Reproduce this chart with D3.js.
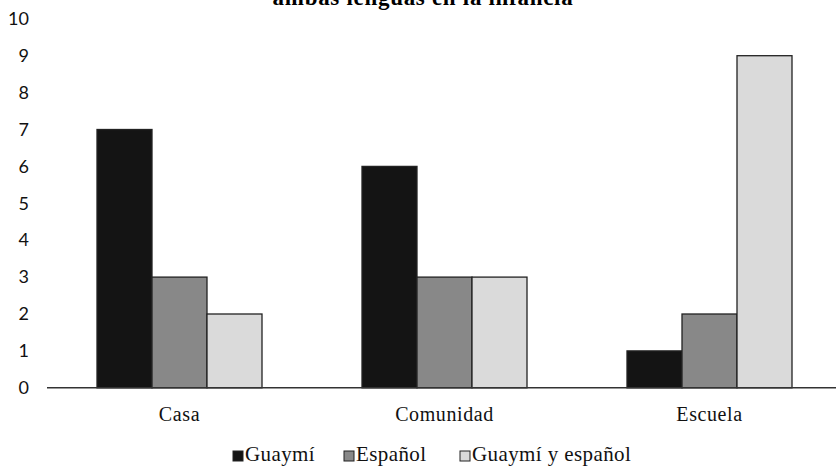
<!DOCTYPE html>
<html lang="es">
<head>
  <meta charset="UTF-8">
  <title>Uso de ambas lenguas en la infancia</title>
  <script src="https://d3js.org/d3.v7.min.js"></script>
  <style>
    html, body { margin: 0; padding: 0; background: #fff; overflow: hidden; }
    svg { display: block; }
  </style>
</head>
<body>
<div id="chartContainer"></div>
<script>
  // Datos
  const categories = ["Casa", "Comunidad", "Escuela"];
  const seriesNames = ["Guaymí", "Español", "Guaymí y español"];
  const guaymi = [7, 6, 1];
  const espanol = [3, 3, 2];
  const ambas = [2, 3, 9];
  const yTicks = [0, 1, 2, 3, 4, 5, 6, 7, 8, 9, 10];
  const titleText = "ambas lenguas en la infancia";

  const width = 836;
  const height = 466;
  const colors = ["#141414", "#888888", "#dadada"];

  const svg = d3.select("#chartContainer")
    .append("svg")
    .attr("width", width)
    .attr("height", height);

  // Escalas
  const x0 = d3.scaleBand()
    .domain(categories)
    .range([47, 842])
    .paddingInner(100 / 265)
    .paddingOuter(50 / 265);

  const x1 = d3.scaleBand()
    .domain(seriesNames)
    .range([0, x0.bandwidth()]);

  const y = d3.scaleLinear()
    .domain([0, 10])
    .range([387.8, 18.8]);

  const values = [guaymi, espanol, ambas];
  const rows = categories.map((c, i) => ({
    category: c,
    items: seriesNames.map((s, j) => ({ series: s, value: values[j][i], idx: j }))
  }));

  // Título (parcialmente cortado, como en el original)
  svg.append("text")
    .attr("x", 423)
    .attr("y", 5)
    .attr("text-anchor", "middle")
    .style("font-family", "'Liberation Serif', serif")
    .style("font-weight", "bold")
    .style("font-size", "23px")
    .style("letter-spacing", "0.7px")
    .text(titleText);

  // Eje Y (solo etiquetas)
  const yAxis = d3.axisLeft(y).tickValues(yTicks).tickSize(0).tickPadding(0);
  const yg = svg.append("g")
    .attr("transform", "translate(29,0)")
    .call(yAxis);
  yg.select(".domain").remove();
  yg.selectAll("text")
    .style("font-family", "Lato, sans-serif")
    .style("font-size", "18px")
    .attr("fill", "#111");

  // Barras
  const groups = svg.selectAll(".grp")
    .data(rows)
    .enter().append("g")
    .attr("class", "grp")
    .attr("transform", d => `translate(${x0(d.category)},0)`);

  groups.selectAll("rect")
    .data(d => d.items)
    .enter().append("rect")
    .attr("x", d => x1(d.series))
    .attr("y", d => y(d.value))
    .attr("width", x1.bandwidth())
    .attr("height", d => y(0) - y(d.value))
    .attr("fill", d => colors[d.idx])
    .attr("stroke", "#222")
    .attr("stroke-width", 1.3);

  // Eje X
  const xAxis = d3.axisBottom(x0).tickSize(0).tickPadding(19);
  const xg = svg.append("g")
    .attr("transform", `translate(0,${y(0)})`)
    .call(xAxis);
  xg.select(".domain")
    .attr("d", `M47,0H842`)
    .attr("stroke", "#333")
    .attr("stroke-width", 1.5);
  xg.selectAll("text")
    .style("font-family", "'Liberation Serif', serif")
    .style("font-size", "20px")
    .style("letter-spacing", "0.6px")
    .attr("fill", "#111");

  // Leyenda
  const legendX = [233, 344, 460];
  const legend = svg.selectAll(".leg")
    .data(seriesNames)
    .enter().append("g")
    .attr("class", "leg")
    .attr("transform", (d, i) => `translate(${legendX[i]},451)`);

  legend.append("rect")
    .attr("width", 10)
    .attr("height", 10)
    .attr("fill", (d, i) => colors[i])
    .attr("stroke", "#222")
    .attr("stroke-width", 1);

  legend.append("text")
    .attr("x", 12)
    .attr("y", 10)
    .style("font-family", "'Liberation Serif', serif")
    .style("font-size", "21px")
    .style("letter-spacing", "0.4px")
    .attr("fill", "#111")
    .text(d => d);
</script>
</body>
</html>
